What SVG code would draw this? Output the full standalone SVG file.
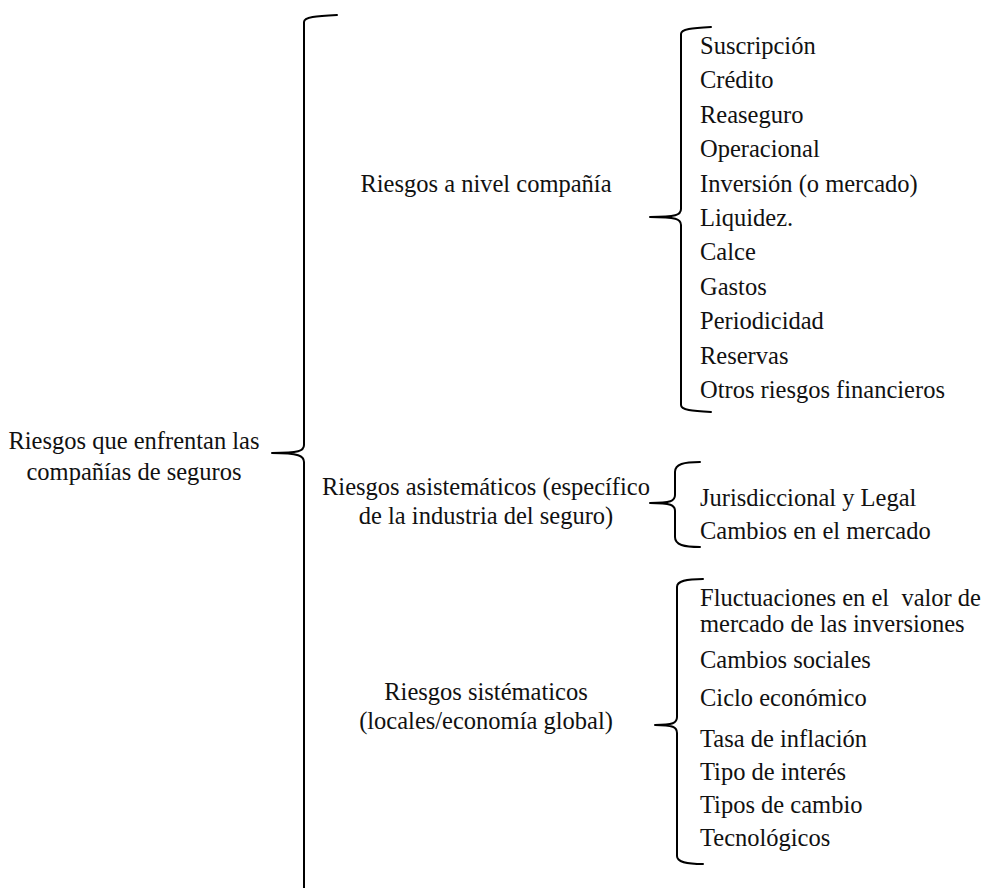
<svg xmlns="http://www.w3.org/2000/svg" width="987" height="888" viewBox="0 0 987 888">
  <style>
    .t { font-family: "Liberation Serif", "DejaVu Serif", serif; font-size: 24.5px; fill: #111; }
    .m { text-anchor: middle; }
    .br { fill: none; stroke: #000; stroke-width: 2; stroke-linecap: round; stroke-linejoin: round; }
  </style>
  <rect width="987" height="888" fill="#fff"/>

  <!-- braces -->
  <g id="connectors">
    <path class="br" d="M337,15 C316,16 304,17 304,22 V445 C304,451 299,453 272,453 C299,453 304,456 304,462 V888"/>
    <path class="br" d="M711,27 C692,28 681,29 681,34 V209 C681,215 676,217 650,217 C676,217 681,219 681,225 V405 C681,410 692,411 711,412"/>
    <path class="br" d="M700,462 C684,462 675,464 675,472 V495 C675,501 671,503 650,503 C671,503 675,505 675,511 V537 C675,545 684,547 700,547"/>
    <path class="br" d="M703,579 C686,579 677,581 677,587 V717 C677,723 673,725 655,725 C673,725 677,727 677,733 V856 C677,862 686,864 703,864"/>
  </g>

  <g id="root">
    <text class="t m" x="134" y="449">Riesgos que enfrentan las</text>
    <text class="t m" x="134" y="480">compañías de seguros</text>
  </g>

  <g id="nivel-compania">
    <text class="t m" x="486" y="192">Riesgos a nivel compañía</text>
  </g>
  <g id="asistematicos">
    <text class="t m" x="486" y="495">Riesgos asistemáticos (específico</text>
    <text class="t m" x="486" y="524">de la industria del seguro)</text>
  </g>
  <g id="sistematicos">
    <text class="t m" x="486" y="700">Riesgos sistématicos</text>
    <text class="t m" x="486" y="729">(locales/economía global)</text>
  </g>

  <g id="lista-compania">
    <text class="t" x="700" y="54">Suscripción</text>
    <text class="t" x="700" y="88">Crédito</text>
    <text class="t" x="700" y="123">Reaseguro</text>
    <text class="t" x="700" y="157">Operacional</text>
    <text class="t" x="700" y="192">Inversión (o mercado)</text>
    <text class="t" x="700" y="226">Liquidez.</text>
    <text class="t" x="700" y="260">Calce</text>
    <text class="t" x="700" y="295">Gastos</text>
    <text class="t" x="700" y="329">Periodicidad</text>
    <text class="t" x="700" y="364">Reservas</text>
    <text class="t" x="700" y="398">Otros riesgos financieros</text>
  </g>
  <g id="lista-asistematicos">
    <text class="t" x="700" y="506">Jurisdiccional y Legal</text>
    <text class="t" x="700" y="539">Cambios en el mercado</text>
  </g>
  <g id="lista-sistematicos">
    <text class="t" x="700" y="606" xml:space="preserve">Fluctuaciones en el  valor de</text>
    <text class="t" x="700" y="632">mercado de las inversiones</text>
    <text class="t" x="700" y="668">Cambios sociales</text>
    <text class="t" x="700" y="706">Ciclo económico</text>
    <text class="t" x="700" y="747">Tasa de inflación</text>
    <text class="t" x="700" y="780">Tipo de interés</text>
    <text class="t" x="700" y="813">Tipos de cambio</text>
    <text class="t" x="700" y="846">Tecnológicos</text>
  </g>
</svg>
